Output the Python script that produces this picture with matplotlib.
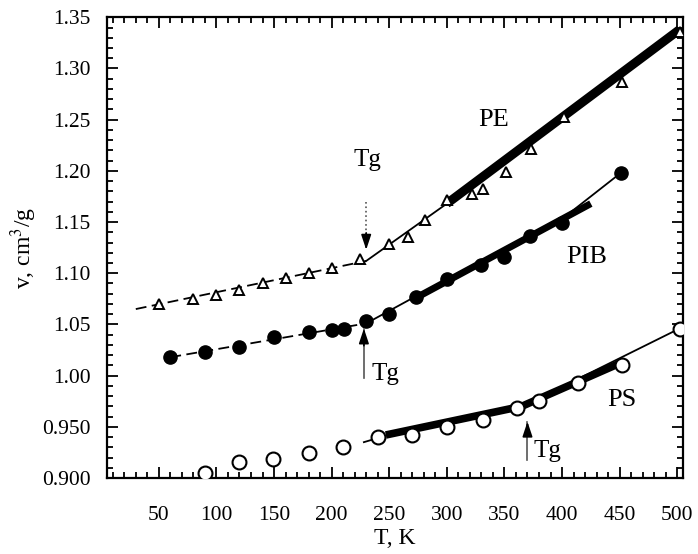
import matplotlib
matplotlib.use("Agg")
import matplotlib.pyplot as plt
import matplotlib.ticker as mticker

# ── data ───────────────────────────────────────────────────────────────────
PE_T = [50, 80, 100, 120, 140, 160, 180, 200, 225, 250, 266, 281, 300, 322, 331, 351, 373, 402, 452, 502]
PE_V = [1.070, 1.075, 1.079, 1.084, 1.090, 1.095, 1.100, 1.105, 1.114, 1.129, 1.135, 1.152,
        1.172, 1.177, 1.182, 1.199, 1.221, 1.253, 1.287, 1.336]

PIB_T = [60, 90, 120, 150, 180, 200, 211, 230, 250, 273, 300, 330, 350, 372, 400, 451]
PIB_V = [1.018, 1.023, 1.028, 1.038, 1.043, 1.045, 1.046, 1.053, 1.060, 1.077, 1.094,
         1.108, 1.116, 1.136, 1.149, 1.198]

PS_T = [90, 120, 149, 180, 210, 240, 270, 300, 331, 361, 380, 414, 452, 502]
PS_V = [0.905, 0.916, 0.919, 0.924, 0.930, 0.940, 0.942, 0.950, 0.957, 0.968, 0.975,
        0.993, 1.010, 1.046]

# fitted lines (glass branch / melt branch)
PE_GLASS_T, PE_GLASS_V = [30, 230], [1.065, 1.112]
PE_MELT_T, PE_MELT_V = [230, 300], [1.112, 1.168]
PE_THICK_T, PE_THICK_V = [300, 502], [1.168, 1.338]

PIB_GLASS_T, PIB_GLASS_V = [60, 230], [1.018, 1.051]
PIB_MELT_T, PIB_MELT_V = [230, 300, 400, 451], [1.051, 1.094, 1.153, 1.198]
PIB_THICK_T, PIB_THICK_V = [270, 425], [1.074, 1.168]

PS_GLASS_T, PS_GLASS_V = [228, 237], [0.935, 0.938]
PS_MELT_T, PS_MELT_V = [365, 502], [0.9695, 1.046]
PS_THICK_T, PS_THICK_V = [247, 365, 450], [0.942, 0.970, 1.012]

# Tg arrows: (x, tail y, tip y, text x, text y)
TG_PE = (230, 1.170, 1.123, 231, 1.211)
TG_PIB = (228, 0.998, 1.046, 235, 1.002)
TG_PS = (370, 0.918, 0.955, 375, 0.926)

LABELS = [("PE", 341, 1.250), ("PIB", 421, 1.116), ("PS", 452, 0.976)]

plt.rcParams["font.family"] = ["Liberation Serif", "DejaVu Serif"]
plt.rcParams["mathtext.fontset"] = "stix"

fig = plt.figure(figsize=(6.98, 5.54), dpi=100, facecolor="white")
ax = fig.add_axes([0.1533, 0.1372, 0.8252, 0.8316])

# lines
ax.plot(PE_GLASS_T, PE_GLASS_V, color="black", lw=1.3, dashes=(6, 3), zorder=2)
ax.plot(PE_MELT_T, PE_MELT_V, color="black", lw=1.3, zorder=2)
ax.plot(PE_THICK_T, PE_THICK_V, color="black", lw=6.5, solid_capstyle="butt", zorder=2)

ax.plot(PIB_GLASS_T, PIB_GLASS_V, color="black", lw=1.3, dashes=(6, 3), zorder=2)
ax.plot(PIB_MELT_T, PIB_MELT_V, color="black", lw=1.3, zorder=2)
ax.plot(PIB_THICK_T, PIB_THICK_V, color="black", lw=5, solid_capstyle="butt", zorder=2)

ax.plot(PS_GLASS_T, PS_GLASS_V, color="black", lw=1.3, zorder=2)
ax.plot(PS_MELT_T, PS_MELT_V, color="black", lw=1.3, zorder=2)
ax.plot(PS_THICK_T, PS_THICK_V, color="black", lw=5.5, solid_capstyle="butt", zorder=2)

# markers
ax.plot(PE_T, PE_V, ls="none", marker="^", ms=7, mfc="white", mec="black", mew=1.4, zorder=3)
ax.plot(PIB_T, PIB_V, ls="none", marker="o", ms=9.5, mfc="black", mec="black", zorder=3)
ax.plot(PS_T, PS_V, ls="none", marker="o", ms=10, mfc="white", mec="black", mew=1.5, zorder=3)

# Tg arrows
for i, (x, y0, y1, tx, ty) in enumerate([TG_PE, TG_PIB, TG_PS]):
    ls = ":" if i == 0 else "-"
    ax.plot([x, x], [y0, y1], color="#555555", lw=1.2, ls=ls, zorder=4)
    d = (y1 - y0) * 0.35
    ax.annotate("", xy=(x, y1), xytext=(x, y1 - d),
                arrowprops=dict(arrowstyle="-|>,head_length=0.9,head_width=0.3",
                                color="black", lw=1.2, shrinkA=0, shrinkB=0), zorder=5)
    ha = "center" if i == 0 else "left"
    ax.text(tx, ty, "Tg", fontsize=18, ha=ha, va="center", zorder=5)

for name, x, y in LABELS:
    ax.text(x, y, name, fontsize=19, ha="center", va="center")

ax.set_xlim(5, 505)
ax.set_ylim(0.9, 1.35)
ax.xaxis.set_major_locator(mticker.FixedLocator([50, 100, 150, 200, 250, 300, 350, 400, 450, 500]))
ax.xaxis.set_minor_locator(mticker.MultipleLocator(10))
ax.yaxis.set_major_locator(mticker.MultipleLocator(0.05))
ax.yaxis.set_minor_locator(mticker.MultipleLocator(0.01))
ax.yaxis.set_major_formatter(mticker.FuncFormatter(
    lambda v, _: f"{v:.3f}" if v < 0.999 else f"{v:.2f}"))

ax.tick_params(which="both", direction="in", top=True, right=True, width=1.3, labelsize=15.5)
ax.tick_params(which="major", length=8)
ax.tick_params(which="minor", length=4)
ax.tick_params(axis="x", pad=20)
ax.tick_params(axis="y", pad=12)
for s in ax.spines.values():
    s.set_linewidth(1.6)

ax.set_xlabel("T, K", fontsize=17, labelpad=2)
ax.set_ylabel(r"v, cm$^3$/g", fontsize=17, labelpad=2)

fig.savefig("out.png", dpi=100, facecolor="white")
